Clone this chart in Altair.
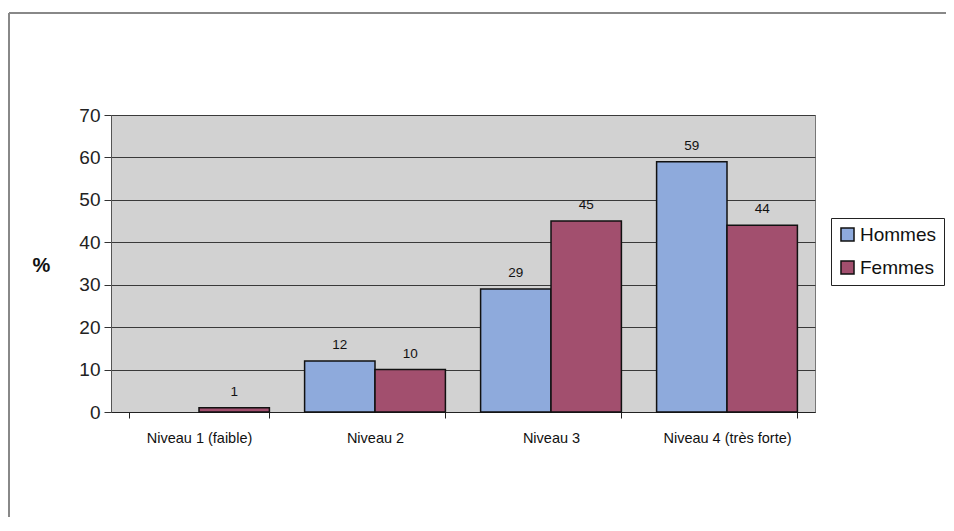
import altair as alt
import pandas as pd

categories = ["Niveau 1 (faible)", "Niveau 2", "Niveau 3", "Niveau 4 (très forte)"]
series = ["Hommes", "Femmes"]
hommes = [0, 12, 29, 59]
femmes = [1, 10, 45, 44]
colors = ["#8eaadc", "#a24f6e"]
y_ticks = [0, 10, 20, 30, 40, 50, 60, 70]

rows = []
for c, h, f in zip(categories, hommes, femmes):
    rows.append({"niveau": c, "sexe": "Hommes", "pct": h, "label": str(h) if h > 0 else ""})
    rows.append({"niveau": c, "sexe": "Femmes", "pct": f, "label": str(f) if f > 0 else ""})
df = pd.DataFrame(rows)

W, H = 704, 297
FONT = "Liberation Sans"

x = alt.X("niveau:N", sort=categories,
          scale=alt.Scale(domain=categories, paddingInner=0.2, paddingOuter=0.1),
          axis=alt.Axis(title=None, labelAngle=0, labelFontSize=14.5, labelPadding=13,
                        tickSize=6, tickBand="extent", domainColor="#222",
                        tickColor="#222", labelColor="#111", grid=False, labelFont=FONT))
xo = alt.XOffset("sexe:N", sort=series,
                 scale=alt.Scale(domain=series, paddingInner=0, paddingOuter=0))
y = alt.Y("pct:Q", scale=alt.Scale(domain=[0, 70], nice=False),
          axis=alt.Axis(values=y_ticks, title="%", titleAngle=0, titleFontSize=20,
                        titleFontWeight="bold", titleX=-70, titleY=150, titleAlign="center",
                        titleBaseline="middle", titleFont=FONT, titleColor="#111",
                        labelFontSize=19, labelPadding=4, labelFont=FONT, labelColor="#222",
                        tickSize=7, tickColor="#333", domainColor="#555",
                        grid=True, gridColor="#3a3a3a", gridWidth=1))

bars = alt.Chart(df).mark_bar(stroke="#111", strokeWidth=1.5).encode(
    x=x, xOffset=xo, y=y,
    color=alt.Color("sexe:N", sort=series, scale=alt.Scale(domain=series, range=colors),
                    legend=alt.Legend(title=None, orient="none", legendX=720, legendY=103,
                                      strokeColor="#222", padding=7, labelFontSize=19,
                                      labelFont=FONT, labelColor="#111",
                                      symbolType="square", symbolSize=170,
                                      symbolStrokeColor="#111", symbolStrokeWidth=1.5,
                                      rowPadding=12, labelOffset=3, fillColor="white")),
).transform_filter(alt.datum.pct > 0)

labels = alt.Chart(df).mark_text(baseline="bottom", dy=-9, fontSize=13.5, font=FONT,
                                 color="#111").encode(
    x=x, xOffset=xo, y=y, text="label:N")

frame_top = alt.Chart(df).mark_rule(color="#888", strokeWidth=1.5).encode(
    x=alt.value(-102), x2=alt.value(835), y=alt.value(-102))
frame_left = alt.Chart(df).mark_rule(color="#888", strokeWidth=1.5).encode(
    x=alt.value(-102), y=alt.value(-102), y2=alt.value(420))

chart = alt.layer(frame_top, frame_left, bars, labels).properties(
    width=W, height=H,
    autosize=alt.AutoSizeParams(type="none"),
    padding={"left": 103, "top": 107, "right": 131, "bottom": 105},
    background="white",
).configure_view(fill="#d2d2d2", stroke="#777", strokeWidth=1)

chart.save("out.html", embed_options={"renderer": "svg", "actions": False})
